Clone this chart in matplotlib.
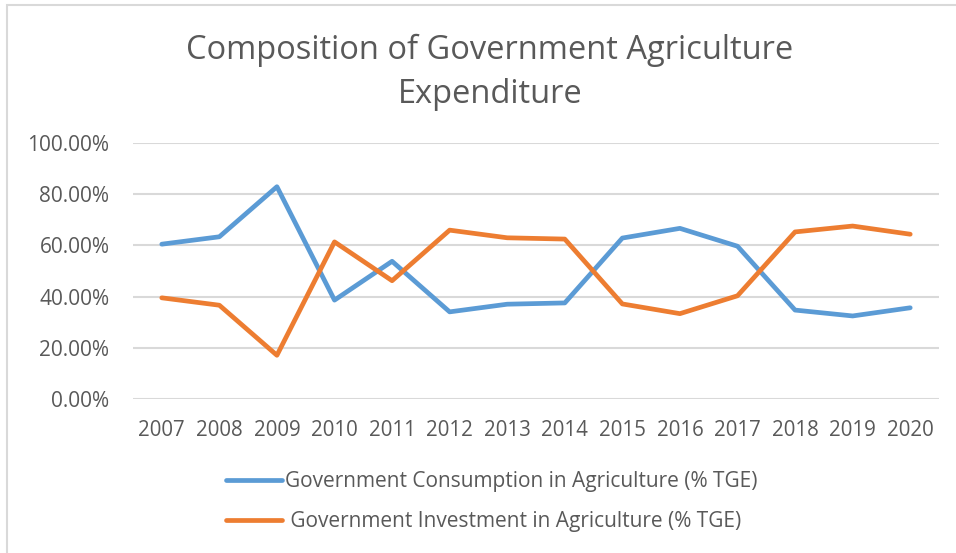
import matplotlib

matplotlib.use("Agg")
import matplotlib.pyplot as plt
from matplotlib.lines import Line2D
from matplotlib.patches import Rectangle
from matplotlib.ticker import FuncFormatter

years = ["2007", "2008", "2009", "2010", "2011", "2012", "2013",
         "2014", "2015", "2016", "2017", "2018", "2019", "2020"]
consumption = [60.5, 63.4, 83.0, 38.6, 53.8, 34.0, 37.0,
               37.5, 62.9, 66.7, 59.7, 34.7, 32.4, 35.6]
investment = [39.5, 36.6, 17.0, 61.4, 46.2, 66.0, 63.0,
              62.5, 37.1, 33.3, 40.3, 65.3, 67.6, 64.4]
y_ticks = [0, 20, 40, 60, 80, 100]

title = "Composition of Government Agriculture\nExpenditure"
consumption_label = "Government Consumption in Agriculture (% TGE)"
investment_label = " Government Investment in Agriculture (% TGE)"

BLUE = "#5B9BD5"
ORANGE = "#ED7D31"
TEXT = "#595959"
GRID = "#D9D9D9"

plt.rcParams["font.family"] = ["Open Sans", "DejaVu Sans"]

W, H = 956, 553
fig = plt.figure(figsize=(W / 100, H / 100), dpi=100)

# chart-area frame (runs off the right and bottom edges)
fig.patches.append(Rectangle((7 / W, -0.1), 1.2, 1 - 5 / H + 0.1,
                             transform=fig.transFigure, fill=False,
                             edgecolor=GRID, linewidth=1.5))

ax = fig.add_axes([133 / W, 1 - 398.7 / H, (939 - 133) / W, (398.7 - 143.3) / H])
x = list(range(len(years)))

line_kw = dict(linewidth=3.4, solid_joinstyle="round", solid_capstyle="round")
ax.plot(x, consumption, color=BLUE, **line_kw)
ax.plot(x, investment, color=ORANGE, **line_kw)

ax.set_xlim(-0.5, len(years) - 0.5)
ax.set_ylim(0, 100)
ax.set_yticks(y_ticks)
ax.yaxis.set_major_formatter(FuncFormatter(lambda v, _: f"{v:.2f}%"))
ax.set_xticks(x)
ax.set_xticklabels(years)
ax.grid(axis="y", color=GRID, linewidth=1.5)
ax.set_axisbelow(True)
for side in ax.spines.values():
    side.set_visible(False)
ax.tick_params(axis="y", length=0, pad=17, labelsize=15, labelcolor=TEXT)
ax.tick_params(axis="x", length=0, pad=15, labelsize=14.8, labelcolor=TEXT)

fig.text(490 / W, 1 - 72.5 / H, title, ha="center", va="center",
         fontsize=23.5, color=TEXT, linespacing=1.45)

handles = [Line2D([], [], color=BLUE, linewidth=3.4, solid_capstyle="round"),
           Line2D([], [], color=ORANGE, linewidth=3.4, solid_capstyle="round")]
fig.legend(handles, [consumption_label, investment_label],
           loc="center", bbox_to_anchor=(492 / W, 1 - 501.5 / H),
           frameon=False, fontsize=15, labelcolor=TEXT,
           handlelength=2.7, handletextpad=0.15, labelspacing=0.9)

fig.savefig("out.png", dpi=100, facecolor="white")
